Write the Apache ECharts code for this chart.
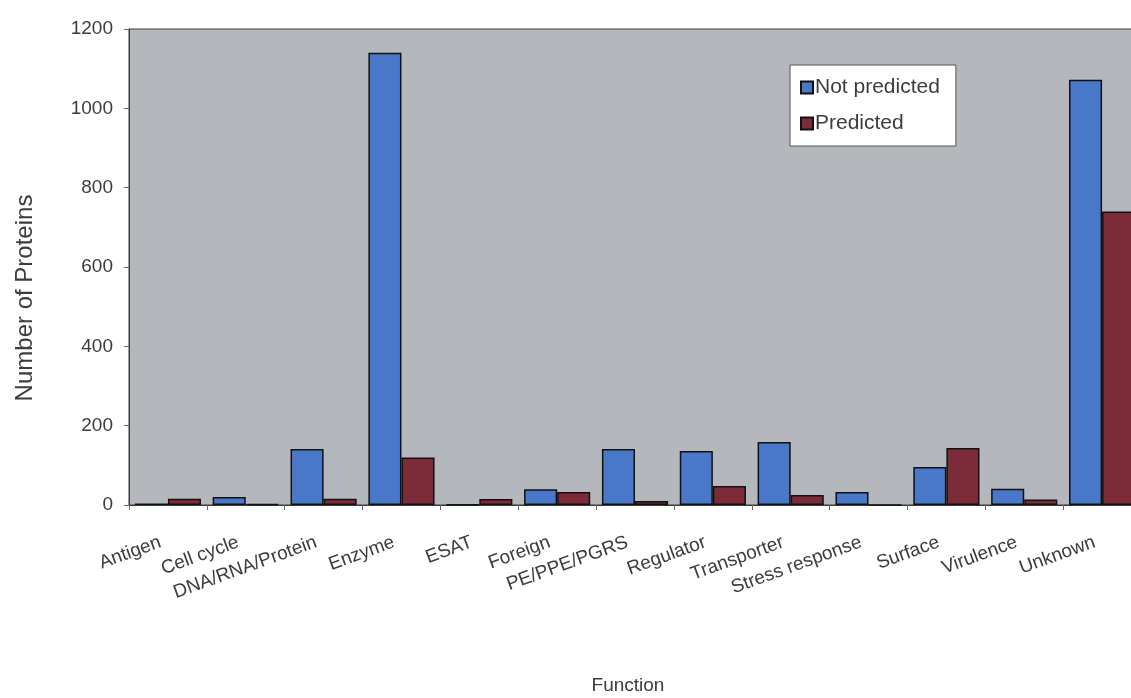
<!DOCTYPE html>
<html>
<head>
<meta charset="utf-8">
<script src="https://cdn.jsdelivr.net/npm/echarts@6/dist/echarts.min.js"></script>
<style>
  html, body { margin: 0; padding: 0; background: #ffffff; }
  #chart { width: 1131px; height: 698px; }
</style>
</head>
<body>
<div id="chart"></div>
<script>
// Protein functional classes
const categories = ['Antigen', 'Cell cycle', 'DNA/RNA/Protein', 'Enzyme', 'ESAT', 'Foreign',
  'PE/PPE/PGRS', 'Regulator', 'Transporter', 'Stress response', 'Surface', 'Virulence', 'Unknown'];

// Protein counts per class
const notPredicted = [4, 20, 141, 1140, 1, 40, 141, 136, 159, 33, 96, 41, 1072];
const predicted    = [16, 3, 16, 120, 15, 33, 10, 48, 25, 0, 144, 14, 740];

const yTicks = { min: 0, max: 1200, interval: 200 };

const FONT = '"Liberation Sans", Arial, sans-serif';
const TEXT = '#3c3c3c';

const chart = echarts.init(document.getElementById('chart'), null, { renderer: 'canvas' });

chart.setOption({
  animation: false,
  backgroundColor: '#ffffff',
  textStyle: { fontFamily: FONT },
  grid: {
    left: 129, top: 29, width: 1012, height: 476,
    outerBoundsMode: 'none',
    containLabel: false,
    show: true,
    backgroundColor: '#b4b8bd',
    borderColor: '#3a3a3a',
    borderWidth: 1
  },
  legend: {
    orient: 'vertical',
    left: 790, top: 65,
    backgroundColor: '#ffffff',
    borderColor: '#555555',
    borderWidth: 1,
    padding: [12, 16, 12, 10],
    itemWidth: 12, itemHeight: 12,
    itemGap: 15,
    icon: 'rect',
    textStyle: { fontSize: 21, color: TEXT, fontFamily: FONT, padding: [0, 0, 0, -3] },
    data: ['Not predicted', 'Predicted']
  },
  xAxis: {
    type: 'category',
    data: categories,
    name: 'Function',
    nameLocation: 'middle',
    nameGap: 171,
    nameTextStyle: { fontSize: 19, color: TEXT, padding: [0, 14, 0, 0] },
    axisLine: { lineStyle: { color: '#3a3a3a', width: 1 } },
    axisTick: { show: true, length: 5, lineStyle: { color: '#666666' } },
    axisLabel: {
      rotate: 20, interval: 0, fontSize: 19, color: TEXT, margin: 34,
      padding: [0, 8, 0, 0]
    }
  },
  yAxis: {
    type: 'value',
    min: yTicks.min, max: yTicks.max, interval: yTicks.interval,
    name: 'Number of Proteins',
    nameLocation: 'middle',
    nameGap: 92,
    nameTextStyle: { fontSize: 24, color: TEXT, padding: [0, 62, 0, 0] },
    axisLine: { show: true, lineStyle: { color: '#3a3a3a', width: 1 } },
    axisTick: { show: true, length: 5, lineStyle: { color: '#666666' } },
    splitLine: { show: false },
    axisLabel: { fontSize: 19, color: TEXT, margin: 16, formatter: (v) => String(v) }
  },
  series: [
    {
      name: 'Not predicted',
      type: 'bar',
      data: notPredicted,
      barCategoryGap: '15%',
      barGap: '0%',
      itemStyle: { color: '#4a78c9', borderColor: '#111111', borderWidth: 1.5 }
    },
    {
      name: 'Predicted',
      type: 'bar',
      data: predicted,
      itemStyle: { color: '#7e2b39', borderColor: '#111111', borderWidth: 1.5 }
    }
  ]
});
</script>
</body>
</html>
